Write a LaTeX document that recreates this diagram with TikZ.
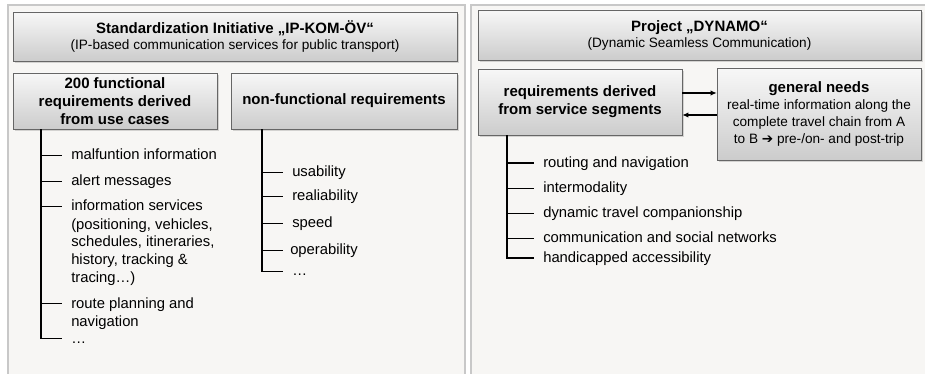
\documentclass[tikz,border=0pt]{standalone}
\usepackage{fontspec}
\setmainfont{Liberation Sans}
\newfontfamily\symfont{DejaVu Sans}
\usetikzlibrary{positioning}
\usetikzlibrary{shadows}
\usetikzlibrary{arrows.meta}
\definecolor{panelbg}{HTML}{F7F6F4}
\definecolor{panelline}{HTML}{C8C8C8}
\newcommand{\itemtext}[1]{\begin{tabular}[t]{@{}l@{}}#1\end{tabular}}
\tikzset{
    panel/.style = {draw=panelline, fill=panelbg, line width=0.9pt},
    headbox/.style = {rectangle, draw=gray!80!black, top color=gray!6, bottom color=gray!40, drop shadow={shadow xshift=1.3pt, shadow yshift=-1.3pt, opacity=0.3}, align=center, inner sep=0pt, font=\fontsize{11.25}{13.5}\selectfont},
    item/.style = {anchor=base west, inner sep=0pt, font=\fontsize{11.1}{13.5}\selectfont},
    tree/.style = {line width=1.4pt, draw=black},
    edgen/.style = {-{Latex[length=4.5pt,width=4pt]}, line width=1pt},
}

\begin{document}
\begin{tikzpicture}[x=0.75pt,y=-0.75pt]
\useasboundingbox (0,0) rectangle (925,374);
%
\fill[white] (0,0) rectangle (925,374);
\draw[panel] (8,5) rectangle (465,390);
\draw[panel] (471,5) rectangle (940,390);
%
\node[headbox, minimum width=444*0.75pt, minimum height=49*0.75pt] at (235,36.5) (ipkom)
  {\textbf{Standardization Initiative „IP-KOM-ÖV“}\\[-1.5pt]{\fontsize{10.2}{12}\selectfont(IP-based communication services for public transport)}};
\node[headbox, minimum width=204*0.75pt, minimum height=56*0.75pt] at (115,101) (func)
  {\textbf{200 functional}\\\textbf{requirements derived}\\\textbf{from use cases}};
\node[headbox, minimum width=226*0.75pt, minimum height=56*0.75pt] at (344,101) (nonfunc)
  {\textbf{non-functional requirements}};
\node[headbox, minimum width=443*0.75pt, minimum height=50*0.75pt] at (699.5,35) (dynamo)
  {\textbf{Project „DYNAMO“}\\[-1.5pt]{\fontsize{10.2}{12}\selectfont(Dynamic Seamless Communication)}};
\node[headbox, minimum width=204*0.75pt, minimum height=66*0.75pt] at (580,102) (req)
  {\textbf{requirements derived}\\\textbf{from service segments}};
\node[headbox, minimum width=204*0.75pt, minimum height=92*0.75pt, font=\fontsize{10.2}{12.8}\selectfont] at (819,114) (needs)
  {{\fontsize{11.25}{13}\selectfont\bfseries general needs}\\real-time information along the\\complete travel chain from A\\to B {\symfont ➔} pre-/on- and post-trip};
%
\coordinate (fsp) at (41,0);
\coordinate (nsp) at (262,0);
\coordinate (rsp) at (507,0);
%
\node[item] at (71,160) (f1) {malfuntion information};
\node[item] at (71,186) (f2) {alert messages};
\node[item] at (71,211) (f3) {\itemtext{information services\\(positioning, vehicles,\\schedules, itineraries,\\history, tracking \&\\tracing…)}};
\node[item] at (71,308) (f4) {\itemtext{route planning and\\navigation}};
\node[item] at (71,343) (f5) {…};
%
\node[item] at (292,177) (n1) {usability};
\node[item] at (292,201) (n2) {realiability};
\node[item] at (292,228) (n3) {speed};
\node[item] at (290,255) (n4) {operability};
\node[item] at (292,276) (n5) {…};
%
\node[item] at (543,167.5) (r1) {routing and navigation};
\node[item] at (543,193) (r2) {intermodality};
\node[item] at (543,218) (r3) {dynamic travel companionship};
\node[item] at (543,243) (r4) {communication and social networks};
\node[item] at (543,262.5) (r5) {handicapped accessibility};
%
\draw[tree] (fsp |- func.south) -- ([yshift=3.4pt]fsp |- f5.base) -- ++(21,0);
\foreach \n in {1,...,4}
  \draw[tree] ([yshift=3.4pt]fsp |- f\n.base) -- ++(21,0);
\draw[tree] (nsp |- nonfunc.south) -- ([yshift=3.4pt]nsp |- n5.base) -- ++(21,0);
\foreach \n in {1,...,4}
  \draw[tree] ([yshift=3.4pt]nsp |- n\n.base) -- ++(21,0);
\draw[tree] (rsp |- req.south) -- ([yshift=3.4pt]rsp |- r5.base) -- ++(27,0);
\foreach \n in {1,...,4}
  \draw[tree] ([yshift=3.4pt]rsp |- r\n.base) -- ++(27,0);
%
\draw[edgen] ([yshift=6.75pt]req.east) -- ([yshift=6.75pt]req.east -| needs.west);
\draw[edgen] ([yshift=-9.75pt]req.east -| needs.west) -- ([yshift=-9.75pt]req.east);
\end{tikzpicture}
\end{document}
